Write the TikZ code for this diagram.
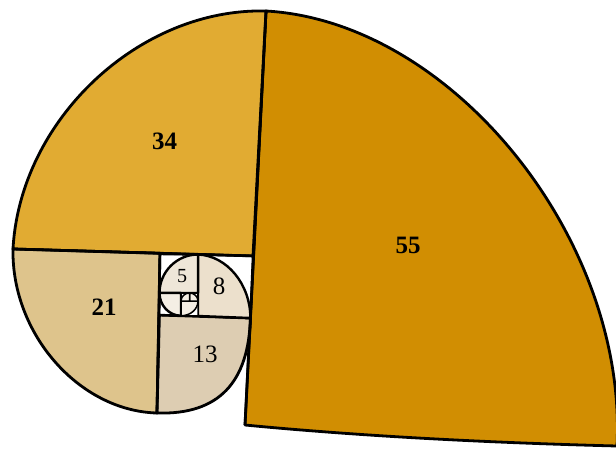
\documentclass[tikz,border=0pt]{standalone}
\usepackage{fontspec}
\setmainfont{Liberation Serif}
\definecolor{c55}{RGB}{209,142,2}
\definecolor{c34}{RGB}{225,171,50}
\definecolor{c21}{RGB}{222,196,140}
\definecolor{c13}{RGB}{221,205,178}
\definecolor{c8}{RGB}{236,224,204}
\definecolor{c5}{RGB}{238,230,216}
\definecolor{csmall}{RGB}{244,238,228}
\begin{document}
\begin{tikzpicture}[x=1pt,y=-1pt,
  region/.style={draw=black,line width=2.8pt,line join=round},
  smallregion/.style={draw=black,line width=2.4pt,line join=round},
  tinyregion/.style={draw=black,line width=1.5pt,line join=round},
  bignum/.style={inner sep=0pt,font=\bfseries\fontsize{25}{25}\selectfont},
  midnum/.style={inner sep=0pt,font=\fontsize{25}{25}\selectfont},
  smallnum/.style={inner sep=0pt,font=\fontsize{20}{20}\selectfont}]
\fill[white] (0,0) rectangle (616,451);
\useasboundingbox (0,0) rectangle (616,451);
\begin{scope}
\clip (0,0) rectangle (616,451);
% 55
\path[region,fill=c55] (266,11) .. controls (452,21.5) and (627.5,239) .. (617,446)
  .. controls (500,443) and (370,437) .. (245,425) -- cycle;
% 34
\path[region,fill=c34] (13,249) .. controls (19.9,120.2) and (138.8,7.8) .. (266,11)
  -- (253,256) -- cycle;
% 21
\path[region,fill=c21] (13,249) .. controls (11.4,333.8) and (79.1,410.9) .. (157,413)
  -- (160,253.3) -- cycle;
% 13
\path[region,fill=c13] (157,413) .. controls (219,415) and (248.6,382) .. (250.4,318)
  -- (159.4,315) -- cycle;
% 8 square (white corner) and quarter
\path[smallregion,fill=white] (198,254.5) -- (253,256) -- (250.4,318) -- (198,316) -- cycle;
\path[smallregion,fill=c8] (250.4,318) .. controls (250.4,284.2) and (226.8,255.6) .. (198,254.5)
  -- (198,316) -- cycle;
% 5
\path[smallregion,fill=white] (160,254) -- (198,254.5) -- (198,293) -- (159.5,293) -- cycle;
\path[smallregion,fill=c5] (198,254.5) .. controls (176.8,254.5) and (159.5,271.8) .. (159.5,293)
  -- (198,293) -- cycle;
% 3
\path[smallregion,fill=white] (159.5,293) -- (181,293) -- (181,315.7) -- (159.2,315) -- cycle;
\path[smallregion,fill=csmall] (159.5,293) .. controls (159.5,305.5) and (169.2,315.7) .. (181,315.7)
  -- (181,293) -- cycle;
% 2
\path[tinyregion,fill=white] (181,301) -- (198,301) -- (198,316) -- (181,315.7) -- cycle;
\path[tinyregion,fill=csmall] (181,315.7) .. controls (190.35,315.85) and (198,309.25) .. (198,301)
  -- (181,301) -- cycle;
% 1 and 1
\path[tinyregion,fill=white] (181,293) rectangle (198,301);
\path[tinyregion,fill=csmall] (198,301) .. controls (198,296.6) and (194.2,293) .. (189.5,293)
  -- (189.5,301) -- cycle;
\path[tinyregion,fill=csmall] (189.5,293) .. controls (184.8,293) and (181,296.6) .. (181,301)
  -- (189.5,301) -- cycle;
% main straight lines on top
\draw[line width=2.6pt] (266,11) -- (245,425);
\draw[line width=2.6pt] (13,249) -- (253,256);
\draw[line width=2.6pt] (160,253.3) -- (157,413);
\end{scope}
% labels
\node[bignum] (n55) at (408,245) {55};
\node[bignum] (n34) at (164.5,141) {34};
\node[bignum] (n21) at (104,307) {21};
\node[midnum] (n13) at (205,354) {13};
\node[midnum] (n8) at (219,286) {8};
\node[smallnum] (n5) at (182,276) {5};
\end{tikzpicture}
\end{document}
